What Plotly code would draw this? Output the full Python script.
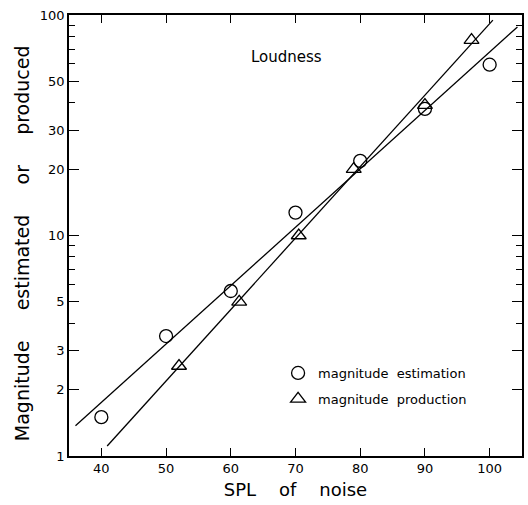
import plotly.graph_objects as go

# Data
est_x = [40, 50, 60, 70, 80, 90, 100]
est_y = [1.5, 3.5, 5.6, 12.7, 21.8, 37.5, 59.5]

prod_x = [52, 61.3, 70.5, 79, 90, 97.2]
prod_y = [2.56, 5.0, 10.0, 20.0, 39.0, 77.0]

# fitted lines (endpoints as read)
est_line_x = [36.0, 104.3]
est_line_y = [1.37, 88.3]
prod_line_x = [40.9, 100.5]
prod_line_y = [1.11, 94.8]

x_ticks = [40, 50, 60, 70, 80, 90, 100]
y_major = [1, 2, 3, 5, 10, 20, 30, 50, 100]
y_minor = [4, 6, 7, 8, 9, 40, 60, 70, 80, 90]

FONT = "DejaVu Sans"
NB = "\u00a0"

fig = go.Figure()
fig.add_trace(go.Scatter(x=est_line_x, y=est_line_y, mode="lines",
                         line=dict(color="black", width=1.3), showlegend=False, hoverinfo="skip"))
fig.add_trace(go.Scatter(x=prod_line_x, y=prod_line_y, mode="lines",
                         line=dict(color="black", width=1.3), showlegend=False, hoverinfo="skip"))
fig.add_trace(go.Scatter(x=est_x, y=est_y, mode="markers", name="magnitude" + NB * 2 + "estimation",
                         legendgroup="a",
                         marker=dict(symbol="circle-open", size=13, color="black", line=dict(width=1.3))))
fig.add_trace(go.Scatter(x=prod_x, y=prod_y, mode="markers", name="magnitude" + NB * 2 + "production",
                         legendgroup="b",
                         marker=dict(symbol="triangle-up-open", size=13, color="black", line=dict(width=1.3))))

fig.add_annotation(text="Loudness", xref="paper", yref="paper",
                   x=(287 - 69) / 455, y=(456 - 46) / 441, showarrow=False,
                   font=dict(family=FONT, size=15, color="black"))

fig.add_annotation(text="Magnitude" + NB * 5 + "estimated" + NB * 5 + "or" + NB * 5 + "produced",
                   xref="paper", yref="paper", x=(22 - 69) / 455, y=(456 - 243) / 441,
                   xanchor="center", yanchor="middle", textangle=-90, showarrow=False,
                   font=dict(family=FONT, size=19, color="black"))

fig.update_layout(
    width=528, height=505,
    margin=dict(l=69, r=4, t=15, b=49),
    paper_bgcolor="white", plot_bgcolor="white",
    font=dict(family=FONT, size=13, color="black"),
    showlegend=True,
    legend=dict(x=(279 - 69) / 455, y=(456 - 358) / 441, xanchor="left", yanchor="top",
                bgcolor="rgba(0,0,0,0)", font=dict(family=FONT, size=13, color="black"),
                tracegroupgap=6),
    xaxis=dict(range=[35, 105], tickvals=x_ticks, ticks="inside", ticklen=8, tickwidth=1.2,
               tickcolor="black", showline=True, linecolor="black", linewidth=1.5, mirror="ticks",
               showgrid=False, zeroline=False,
               title=dict(text="SPL" + NB * 4 + "of" + NB * 4 + "noise",
                          font=dict(family=FONT, size=18, color="black"), standoff=8),
               tickfont=dict(family=FONT, size=13, color="black")),
    yaxis=dict(type="log", range=[0, 2], tickvals=y_major, ticktext=[str(v) for v in y_major],
               ticks="inside", ticklen=10, tickwidth=1.2, tickcolor="black",
               minor=dict(tickvals=y_minor, ticks="inside", ticklen=6, tickwidth=1.2, tickcolor="black",
                          showgrid=False),
               showline=True, linecolor="black", linewidth=1.5, mirror="ticks",
               showgrid=False, zeroline=False,
               tickfont=dict(family=FONT, size=13, color="black")),
)

fig.write_html("out.html")
